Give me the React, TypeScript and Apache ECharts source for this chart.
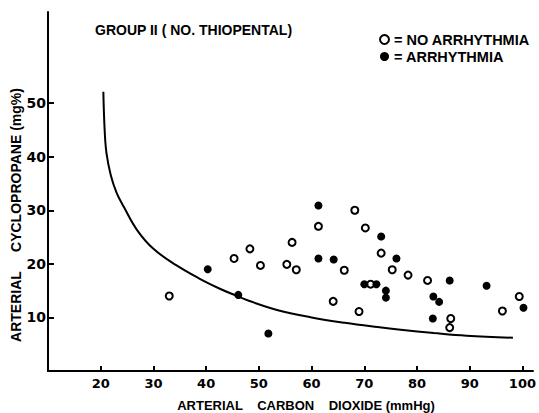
import React, { useEffect, useRef } from "react";
import * as echarts from "echarts";

const noArrhythmiaX = [33.0, 45.3, 48.3, 50.3, 55.3, 56.3, 57.1, 61.3, 64.1, 66.2, 68.2, 69.0, 70.2, 71.2, 73.2, 75.3, 78.3, 82.0, 86.4, 86.2, 96.2, 99.4];
const noArrhythmiaY = [14.0, 21.0, 22.8, 19.7, 19.9, 24.0, 18.9, 27.0, 13.0, 18.8, 30.0, 11.1, 26.7, 16.2, 22.0, 18.9, 17.9, 16.9, 9.8, 8.1, 11.2, 13.9];

const arrhythmiaX = [40.3, 46.1, 51.8, 61.3, 61.3, 64.2, 70.0, 72.3, 73.2, 74.1, 74.1, 76.1, 83.1, 84.2, 83.0, 86.2, 93.2, 100.2];
const arrhythmiaY = [19.0, 14.2, 7.0, 30.9, 21.0, 20.8, 16.2, 16.2, 25.1, 15.0, 13.7, 21.0, 13.9, 12.9, 9.8, 16.9, 15.9, 11.8];

const curveX = [20.5, 20.75, 21.1, 21.9, 23.0, 24.4, 26.9, 30.0, 34.4, 38.8, 42.5, 45.6, 48.1, 53.8, 60.0, 66.3, 72.5, 76.9, 83.2, 89.4, 98.2];
const curveY = [52.1, 44.9, 40.6, 36.6, 33.3, 30.6, 26.3, 22.8, 19.7, 17.2, 15.4, 14.1, 13.1, 11.3, 10.0, 9.0, 8.2, 7.7, 7.1, 6.6, 6.2];

const xTicks = [20, 30, 40, 50, 60, 70, 80, 90, 100];
const yTicks = [10, 20, 30, 40, 50];

const titleText = "GROUP II ( NO. THIOPENTAL)";
const xName = "ARTERIAL    CARBON    DIOXIDE (mmHg)";
const yName = "ARTERIAL     CYCLOPROPANE (mg%)";
const seriesNames = ["NO ARRHYTHMIA", "ARRHYTHMIA"];

const pairs = (xs: number[], ys: number[]) => xs.map((x, i) => [x, ys[i]]);

export default function App() {
  const ref = useRef<HTMLDivElement>(null);
  useEffect(() => {
    if (!ref.current) return;
    const chart = echarts.init(ref.current, null, { renderer: "svg" });
    const font = "'Liberation Sans', Arial, sans-serif";
    chart.setOption({
      animation: false,
      backgroundColor: "#ffffff",
      grid: { left: 48, right: 2, top: 12, bottom: 42 },
      legend: {
        orient: "vertical",
        left: 374,
        top: 27,
        itemWidth: 9,
        itemHeight: 9,
        itemGap: 2,
        icon: "circle",
        data: seriesNames,
        formatter: (n: string) => "= " + n,
        textStyle: { fontFamily: font, fontWeight: "bold", fontSize: 14.5, color: "#000" },
      },
      xAxis: {
        type: "value",
        min: 10,
        max: 102,
        axisLine: { show: true, lineStyle: { color: "#000", width: 2 } },
        axisTick: { show: true, inside: true, length: 5, customValues: xTicks, lineStyle: { color: "#000", width: 2 } },
        axisLabel: {
          customValues: xTicks,
          margin: 6,
          color: "#000",
          fontFamily: "'DejaVu Sans', sans-serif",
          fontWeight: "bold",
          fontSize: 13,
        },
        splitLine: { show: false },
      },
      yAxis: {
        type: "value",
        min: 0,
        max: 67,
        axisLine: { show: true, lineStyle: { color: "#000", width: 2 } },
        axisTick: { show: true, inside: true, length: 6, customValues: yTicks, lineStyle: { color: "#000", width: 2 } },
        axisLabel: {
          customValues: yTicks,
          margin: 2,
          color: "#000",
          fontFamily: "'DejaVu Sans', sans-serif",
          fontWeight: "bold",
          fontSize: 14,
        },
        splitLine: { show: false },
      },
      graphic: [
        {
          type: "text",
          left: 95,
          top: 23,
          style: { text: titleText, fontFamily: font, fontWeight: "bold", fontSize: 14, fill: "#000" },
        },
        {
          type: "text",
          x: 306,
          y: 405,
          style: { text: xName, fontFamily: font, fontWeight: "bold", fontSize: 13, fill: "#000", align: "center", verticalAlign: "middle" },
        },
        {
          type: "text",
          x: 16,
          y: 215,
          rotation: Math.PI / 2,
          style: { text: yName, fontFamily: font, fontWeight: "bold", fontSize: 14, fill: "#000", align: "center", verticalAlign: "middle" },
        },
      ],
      series: [
        {
          name: "curve",
          type: "line",
          data: pairs(curveX, curveY),
          smooth: 0.4,
          showSymbol: false,
          lineStyle: { color: "#000", width: 2 },
          z: 1,
        },
        {
          name: seriesNames[0],
          type: "scatter",
          data: pairs(noArrhythmiaX, noArrhythmiaY),
          symbol: "circle",
          symbolSize: 7,
          itemStyle: { color: "#fff", borderColor: "#000", borderWidth: 2, opacity: 1 },
          z: 3,
        },
        {
          name: seriesNames[1],
          type: "scatter",
          data: pairs(arrhythmiaX, arrhythmiaY),
          symbol: "circle",
          symbolSize: 8,
          itemStyle: { color: "#000", borderWidth: 0, opacity: 1 },
          z: 3,
        },
      ],
    });
    return () => chart.dispose();
  }, []);
  return <div ref={ref} style={{ position: "absolute", left: 0, top: 0, width: 539, height: 413 }} />;
}
